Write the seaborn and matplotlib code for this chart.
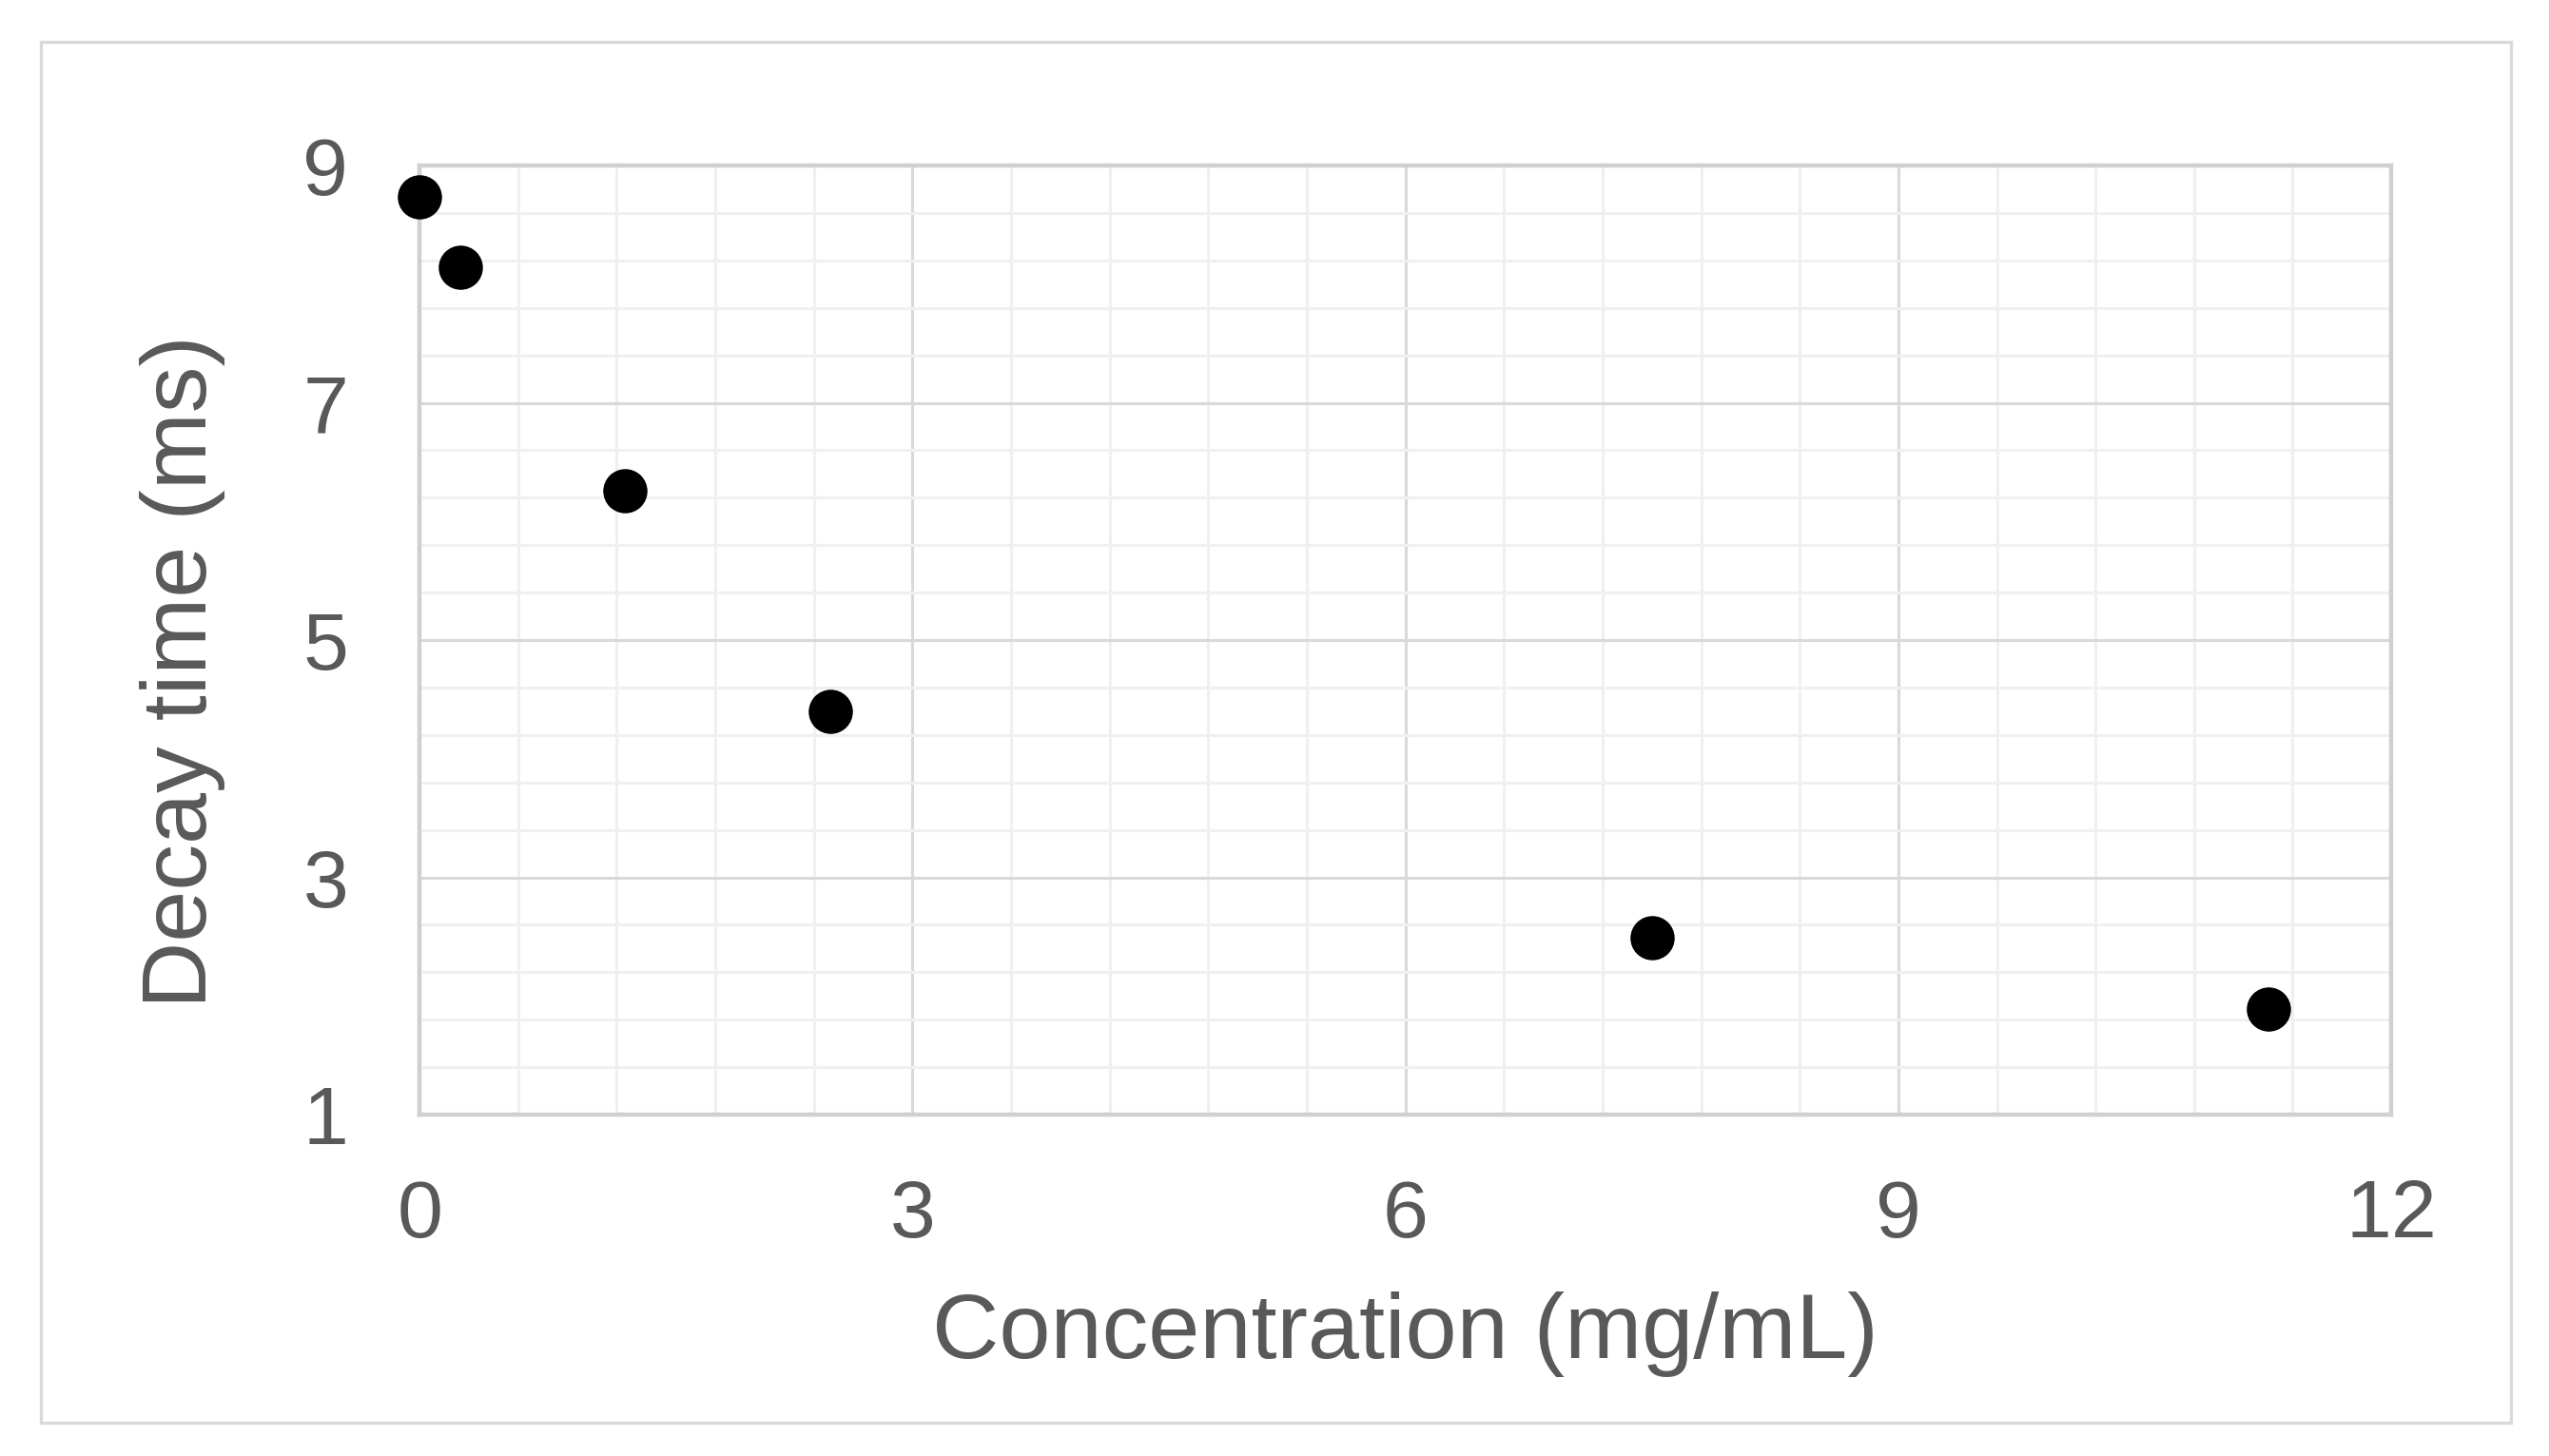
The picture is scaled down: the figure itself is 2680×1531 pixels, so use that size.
import numpy as np
import pandas as pd
import matplotlib.pyplot as plt
import matplotlib.patches as mpatches
import seaborn as sns

# values
concentration = [0.0, 0.25, 1.25, 2.5, 7.5, 11.25]
decay_time = [8.74, 8.14, 6.26, 4.40, 2.49, 1.89]
x_ticks = [0, 3, 6, 9, 12]
y_ticks = [1, 3, 5, 7, 9]

sns.set_style("white")
plt.rcParams['font.family'] = ['Liberation Sans', 'DejaVu Sans']

text_color = '#595959'
df = pd.DataFrame({'conc': concentration, 'decay': decay_time})

fig = plt.figure(figsize=(13.4, 7.655), dpi=200)
ax = fig.add_axes([0.1646, 0.2345, 0.7735, 0.6518])

# outer chart border
fig.patches.append(mpatches.Rectangle((0.016, 0.023), 0.969, 0.948, transform=fig.transFigure,
                                      fill=False, edgecolor='#d9d9d9', linewidth=1.2))

sns.scatterplot(data=df, x='conc', y='decay', ax=ax, color='black', s=280,
                edgecolor='black', linewidth=0, clip_on=False, zorder=5)

ax.set_xlim(0, 12)
ax.set_ylim(1, 9)
ax.set_xticks(x_ticks)
ax.set_yticks(y_ticks)
ax.set_xticks(np.arange(0, 12.01, 0.6), minor=True)
ax.set_yticks(np.arange(1, 9.01, 0.4), minor=True)
ax.grid(which='major', color='#d9d9d9', linewidth=1.1, zorder=1)
ax.grid(which='minor', color='#f0f0f0', linewidth=1.1, zorder=0)
ax.set_axisbelow(True)
for s in ax.spines.values():
    s.set_color('#d0d0d0')
    s.set_linewidth(1.6)
ax.tick_params(which='both', length=0)
ax.tick_params(axis='x', pad=24, labelsize=31, labelcolor=text_color)
ax.tick_params(axis='y', pad=27, labelsize=31, labelcolor=text_color)

ax.set_xlabel('Concentration (mg/mL)', fontsize=35, color=text_color, va='center')
ax.set_ylabel('Decay time (ms)', fontsize=35, color=text_color, va='center')
ax.xaxis.set_label_coords(0.5, -0.232)
ax.yaxis.set_label_coords(-0.12, 0.467)

fig.savefig('out.png', dpi=200)
